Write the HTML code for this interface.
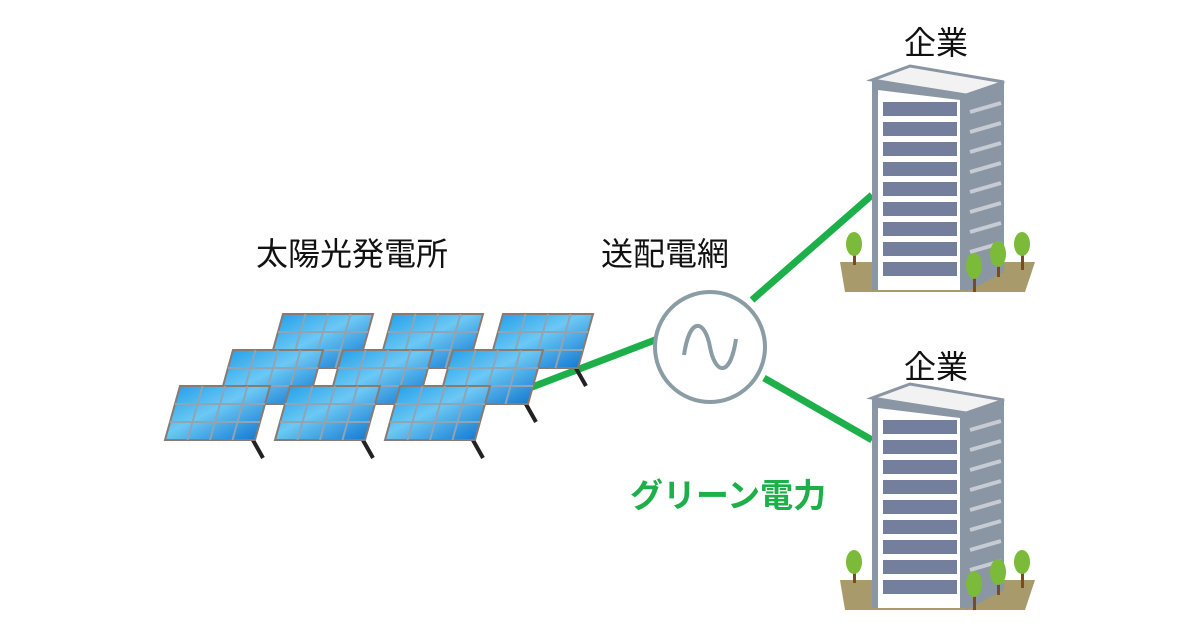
<!DOCTYPE html>
<html><head><meta charset="utf-8"><style>
body{margin:0;background:#fff}
svg{display:block}
text{font-family:"Liberation Sans","Noto Sans CJK JP",sans-serif}
</style></head><body>
<svg width="1200" height="630" viewBox="0 0 1200 630" xmlns="http://www.w3.org/2000/svg">
<defs>
<linearGradient id="pg" x1="0" y1="0" x2="1" y2="1">
<stop offset="0" stop-color="#1a9be8"/><stop offset="0.45" stop-color="#6cc8f4"/><stop offset="1" stop-color="#0a6fcc"/>
</linearGradient>
<g id="panel">
<line x1="80" y1="40" x2="98" y2="72" stroke="#222" stroke-width="4"/>
<polygon points="15,0 105,0 90,54 0,54" fill="url(#pg)" stroke="#8a7a70" stroke-width="2"/>
<g stroke="#8fa4b4" stroke-width="2" fill="none">
<line x1="37.5" y1="0" x2="22.5" y2="54"/><line x1="60" y1="0" x2="45" y2="54"/><line x1="82.5" y1="0" x2="67.5" y2="54"/>
<line x1="10" y1="18" x2="100" y2="18"/><line x1="5" y1="36" x2="95" y2="36"/>
</g>
</g>
<g id="bld">
<polygon points="840,262 1035,262 1025,292 845,292" fill="#a89a6a"/>
<polygon points="872,80 910,66 1004,82 966,95" fill="#f2f2f2" stroke="#8a96a4" stroke-width="3"/>
<polygon points="872,80 966,95 966,290 872,290" fill="#8a96a4"/>
<polygon points="878,90 960,100 960,290 878,290" fill="#fff"/>
<polygon points="966,95 1004,82 1004,272 966,292" fill="#8a96a4"/>
<g fill="#737f9c">
<rect x="883" y="102" width="74" height="14"/><rect x="883" y="122" width="74" height="14"/><rect x="883" y="142" width="74" height="14"/><rect x="883" y="162" width="74" height="14"/><rect x="883" y="182" width="74" height="14"/><rect x="883" y="202" width="74" height="14"/><rect x="883" y="222" width="74" height="14"/><rect x="883" y="242" width="74" height="14"/><rect x="883" y="262" width="74" height="14"/>
</g>
<g stroke="#c7ccd4" stroke-width="4">
<line x1="970" y1="112" x2="1001" y2="103"/><line x1="970" y1="132" x2="1001" y2="123"/><line x1="970" y1="152" x2="1001" y2="143"/><line x1="970" y1="172" x2="1001" y2="163"/><line x1="970" y1="192" x2="1001" y2="183"/><line x1="970" y1="212" x2="1001" y2="203"/><line x1="970" y1="232" x2="1001" y2="223"/><line x1="970" y1="252" x2="1001" y2="243"/>
</g>
<g fill="#7a4a20"><rect x="853" y="245" width="3" height="20"/><rect x="973" y="270" width="3" height="22"/><rect x="997" y="255" width="3" height="22"/><rect x="1021" y="250" width="3" height="20"/></g>
<g fill="#7cba3a"><ellipse cx="854" cy="244" rx="8" ry="12"/><ellipse cx="974" cy="266" rx="8" ry="13"/><ellipse cx="998" cy="254" rx="8" ry="13"/><ellipse cx="1022" cy="244" rx="8" ry="12"/></g>
</g>
</defs>
<g stroke="#1db04a" stroke-width="7" stroke-linecap="butt">
<line x1="527" y1="389" x2="655" y2="340"/>
<line x1="752" y1="300" x2="872" y2="195"/>
<line x1="764" y1="378" x2="872" y2="440"/>
</g>
<use href="#panel" x="268" y="314"/><use href="#panel" x="378" y="314"/><use href="#panel" x="488" y="314"/>
<use href="#panel" x="218" y="350"/><use href="#panel" x="328" y="350"/><use href="#panel" x="438" y="350"/>
<use href="#panel" x="165" y="386"/><use href="#panel" x="275" y="386"/><use href="#panel" x="385" y="386"/>
<circle cx="710" cy="347" r="55" fill="#fff" stroke="#8a9ca4" stroke-width="4"/>
<path d="M684,355 C690,315 705,320 710,347 C715,374 730,379 736,339" fill="none" stroke="#8a9ca4" stroke-width="4"/>
<use href="#bld"/>
<use href="#bld" y="318"/>
<g font-size="32" fill="#111" text-anchor="middle">
<text x="936" y="54">企業</text>
<text x="936" y="378">企業</text>
<text x="352" y="265">太陽光発電所</text>
<text x="665" y="265">送配電網</text>
</g>
<text x="728" y="507" font-size="33" font-weight="bold" fill="#1db04a" text-anchor="middle">グリーン電力</text>
</svg>
</body></html>
